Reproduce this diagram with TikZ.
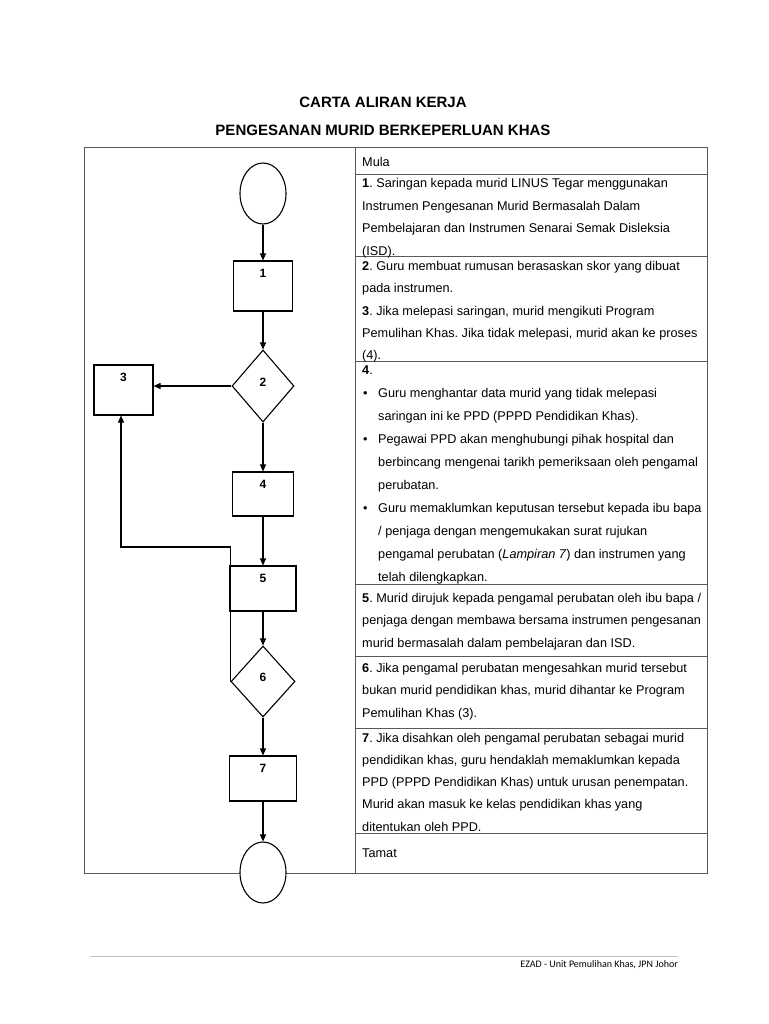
\documentclass[tikz,border=0pt]{standalone}
\usepackage{fontspec}
\setmainfont{Liberation Sans}
\newfontfamily\footfont{Carlito}
\usetikzlibrary{shapes.geometric,arrows.meta,calc}
\frenchspacing
\tikzset{
  tbl/.style={draw=black!65, line width=0.9pt},
  row/.style={anchor=base west, inner sep=0pt, font=\fontsize{12.7}{22.4}\selectfont},
  flow/.style={draw=black, line width=1.1pt},
  arr/.style={flow, -{Triangle[length=7pt,width=6pt]}},
  boxx/.style={draw=black, line width=1.1pt, rectangle, inner sep=0pt, fill=white},
  diam/.style={draw=black, line width=1.1pt, diamond, inner sep=0pt, fill=white},
  ell/.style={draw=black, line width=1.1pt, ellipse, inner sep=0pt, fill=white, minimum width=46pt, minimum height=61pt},
  lbl/.style={font=\bfseries\fontsize{12}{12}\selectfont, inner sep=0pt},
  ttl/.style={font=\bfseries\fontsize{15}{15}\selectfont, anchor=base, inner sep=0pt}
}
\newcommand{\bul}{\makebox[16pt][l]{\hspace{1pt}\textbullet}}
\newcommand{\ind}{\hspace*{16pt}}
\newcommand{\rows}[1]{\begin{tabular}[t]{@{}l@{}}#1\end{tabular}}
\begin{document}
\begin{tikzpicture}[x=1pt,y=-1pt]
\useasboundingbox[fill=white] (0,0) rectangle (768,1024);
% title
\node[ttl] (t1) at (383,108) {CARTA ALIRAN KERJA};
\node[ttl] (t2) at (383,136) {PENGESANAN MURID BERKEPERLUAN KHAS};
% table
\draw[tbl] (84,147) rectangle (707,873);
\draw[tbl] (355,147) -- (355,873);
\foreach \yy in {174,256,361,584,656,728,833}{\draw[tbl] (355,\yy) -- (707,\yy);}
% table texts
\node[row] (r0) at (362,166.5) {Mula};
\node[row] (r1) at (362,188) {\rows{\textbf{1}. Saringan kepada murid LINUS Tegar menggunakan\\Instrumen Pengesanan Murid Bermasalah Dalam\\Pembelajaran dan Instrumen Senarai Semak Disleksia\\(ISD).}};
\node[row] (r2) at (362,270.3) {\rows{\textbf{2}. Guru membuat rumusan berasaskan skor yang dibuat\\pada instrumen.\\\textbf{3}. Jika melepasi saringan, murid mengikuti Program\\Pemulihan Khas. Jika tidak melepasi, murid akan ke proses\\(4).}};
\node[row, font=\fontsize{12.7}{23}\selectfont] (r4) at (362,374.3) {\rows{\textbf{4}.\\\bul Guru menghantar data murid yang tidak melepasi\\\ind saringan ini ke PPD (PPPD Pendidikan Khas).\\\bul Pegawai PPD akan menghubungi pihak hospital dan\\\ind berbincang mengenai tarikh pemeriksaan oleh pengamal\\\ind perubatan.\\\bul Guru memaklumkan keputusan tersebut kepada ibu bapa\\\ind / penjaga dengan mengemukakan surat rujukan\\\ind pengamal perubatan (\textit{Lampiran 7}) dan instrumen yang\\\ind telah dilengkapkan.}};
\node[row] (r5) at (362,602.3) {\rows{\textbf{5}. Murid dirujuk kepada pengamal perubatan oleh ibu bapa /\\penjaga dengan membawa bersama instrumen pengesanan\\murid bermasalah dalam pembelajaran dan ISD.}};
\node[row] (r6) at (362,672.5) {\rows{\textbf{6}. Jika pengamal perubatan mengesahkan murid tersebut\\bukan murid pendidikan khas, murid dihantar ke Program\\Pemulihan Khas (3).}};
\node[row, font=\fontsize{12.7}{22.25}\selectfont] (r7) at (362,742) {\rows{\textbf{7}. Jika disahkan oleh pengamal perubatan sebagai murid\\pendidikan khas, guru hendaklah memaklumkan kepada\\PPD (PPPD Pendidikan Khas) untuk urusan penempatan.\\Murid akan masuk ke kelas pendidikan khas yang\\ditentukan oleh PPD.}};
\node[row] (r8) at (362,857) {Tamat};
% flowchart nodes
\node[ell] (s) at (263,193.5) {};
\node[boxx, minimum width=59pt, minimum height=50pt] (b1) at (263,286) {};
\node[diam, minimum width=62pt, minimum height=72pt] (d2) at (263,386) {};
\node[boxx, minimum width=59pt, minimum height=50pt] (b3) at (123.5,390) {};
\node[boxx, minimum width=61pt, minimum height=44pt] (b4) at (263,494) {};
\node[boxx, minimum width=66pt, minimum height=45pt] (b5) at (263,588.5) {};
\node[diam, minimum width=64pt, minimum height=71pt] (d6) at (263,681.5) {};
\node[boxx, minimum width=67pt, minimum height=45pt] (b7) at (263,778.5) {};
\node[ell] (e) at (263,872.5) {};
% labels
\node[lbl] (l1) at ($(b1.north)+(0,12.5)$) {1};
\node[lbl] (l2) at ($(d2.center)+(0,-4)$) {2};
\node[lbl] (l3) at ($(b3.north)+(0,13)$) {3};
\node[lbl] (l4) at ($(b4.north)+(0,13)$) {4};
\node[lbl] (l5) at ($(b5.north)+(0,13)$) {5};
\node[lbl] (l6) at ($(d6.center)+(0,-4.5)$) {6};
\node[lbl] (l7) at ($(b7.north)+(0,12.5)$) {7};
% connectors
\draw[arr] (s.south) -- (b1.north);
\draw[arr] (b1.south) -- (d2.north);
\draw[arr] (d2.south) -- (b4.north);
\draw[arr] (b4.south) -- (b5.north);
\draw[arr] (b5.south) -- (d6.north);
\draw[arr] (d6.south) -- (b7.north);
\draw[arr] (b7.south) -- (e.north);
\draw[arr] (d2.west) -- (d2.west -| b3.east);
\coordinate (lp) at (121,547);
\draw[arr] (d6.west) |- (lp) -- (lp |- b3.south);
% footer
\draw[draw=black!25, line width=0.9pt] (90,956) coordinate (f1) -- (678,956) coordinate (f2);
\node[anchor=base east, inner sep=0pt, font=\footfont\fontsize{10}{10}\selectfont] (ft) at (678,967) {EZAD - Unit Pemulihan Khas, JPN Johor};
\end{tikzpicture}
\end{document}
